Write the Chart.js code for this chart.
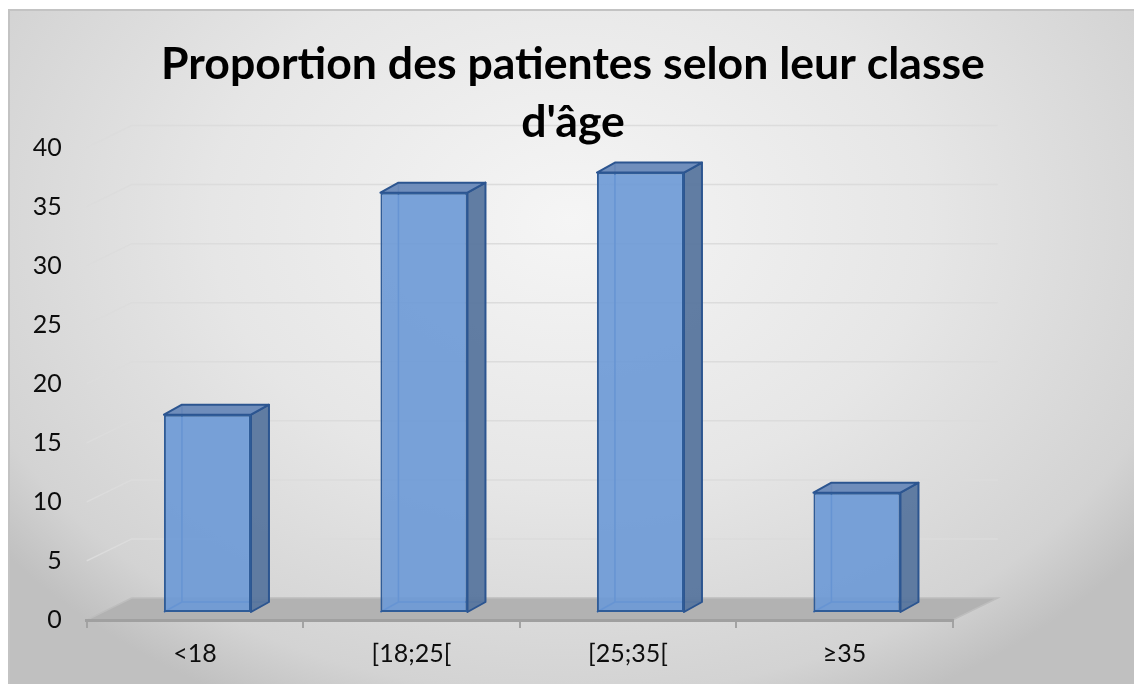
<!DOCTYPE html>
<html><head><meta charset="utf-8">
<script src="https://cdn.jsdelivr.net/npm/chart.js@4.4.1/dist/chart.umd.min.js"></script>
<style>html,body{margin:0;padding:0;background:#fff;overflow:hidden}canvas{display:block}</style>
</head><body>
<canvas id="c" width="1134" height="684"></canvas>
<script>
const titleLines = ['Proportion des patientes selon leur classe', "d'âge"];
const categories = ['<18', '[18;25[', '[25;35[', '≥35'];
const values = [16.7, 35.5, 37.2, 10.1];
const yTicks = [0, 5, 10, 15, 20, 25, 30, 35, 40];

const FLOOR_DX = 45, FLOOR_DY = -22;
const BAR_SHIFT_X = 12.5, BAR_SHIFT_Y = -8;
const BAR_DX = 18, BAR_DY = -10;

const threeD = {
  id: 'threeD',
  beforeDraw(chart) {
    const {ctx, chartArea: a, scales: {y}} = chart;
    const bx = 8, by = 9, bw = chart.width - 8, bh = chart.height - 9;
    ctx.save();
    ctx.fillStyle = '#ffffff';
    ctx.fillRect(0, 0, chart.width, chart.height);
    ctx.save();
    ctx.translate(571, 220);
    ctx.scale(1, 0.75);
    const g = ctx.createRadialGradient(0, 0, 0, 0, 0, 720);
    g.addColorStop(0, '#f5f5f5');
    g.addColorStop(0.5, '#e6e6e6');
    g.addColorStop(0.88, '#d3d3d3');
    g.addColorStop(1, '#c0c0c0');
    ctx.fillStyle = g;
    ctx.fillRect(bx - 571, (by - 220) / 0.75, bw, bh / 0.75);
    ctx.restore();
    ctx.strokeStyle = '#c3c3c3';
    ctx.lineWidth = 2;
    ctx.strokeRect(bx + 1, by + 1, bw, bh);
    // gridlines (side wall + back wall)
    ctx.strokeStyle = '#dcdcdc';
    ctx.lineWidth = 1.5;
    yTicks.forEach(v => {
      if (v === 0) return;
      const yf = y.getPixelForValue(v);
      ctx.beginPath();
      ctx.moveTo(a.left, yf);
      ctx.lineTo(a.left + FLOOR_DX, yf + FLOOR_DY);
      ctx.lineTo(a.right + FLOOR_DX, yf + FLOOR_DY);
      ctx.stroke();
    });
    // floor
    const y0 = y.getPixelForValue(0);
    ctx.beginPath();
    ctx.moveTo(a.left, y0);
    ctx.lineTo(a.right, y0);
    ctx.lineTo(a.right + FLOOR_DX, y0 + FLOOR_DY);
    ctx.lineTo(a.left + FLOOR_DX, y0 + FLOOR_DY);
    ctx.closePath();
    ctx.fillStyle = '#b2b2b2';
    ctx.fill();
    ctx.strokeStyle = '#bdbdbd';
    ctx.lineWidth = 1.5;
    ctx.stroke();
    ctx.restore();
  },
  beforeDatasetsDraw(chart) {
    const ctx = chart.ctx;
    ctx.save();
    ctx.translate(BAR_SHIFT_X, BAR_SHIFT_Y);
    const meta = chart.getDatasetMeta(0);
    meta.data.forEach(bar => {
      const {x, y, base, width} = bar.getProps(['x', 'y', 'base', 'width'], true);
      const l = x - width / 2, r = x + width / 2, t = Math.min(y, base), b = Math.max(y, base);
      ctx.lineJoin = 'round';
      // hidden back edges seen through
      ctx.strokeStyle = 'rgba(50,100,178,0.95)';
      ctx.lineWidth = 1.6;
      ctx.beginPath();
      ctx.moveTo(l + BAR_DX, t + BAR_DY);
      ctx.lineTo(l + BAR_DX, b + BAR_DY);
      ctx.lineTo(r + BAR_DX, b + BAR_DY);
      ctx.moveTo(l, b);
      ctx.lineTo(l + BAR_DX, b + BAR_DY);
      ctx.stroke();
      // right face
      ctx.beginPath();
      ctx.moveTo(r, t);
      ctx.lineTo(r + BAR_DX, t + BAR_DY);
      ctx.lineTo(r + BAR_DX, b + BAR_DY);
      ctx.lineTo(r, b);
      ctx.closePath();
      ctx.fillStyle = 'rgba(88,118,158,0.95)';
      ctx.fill();
      ctx.strokeStyle = '#2c5590';
      ctx.lineWidth = 2;
      ctx.stroke();
      // top face
      ctx.beginPath();
      ctx.moveTo(l, t);
      ctx.lineTo(l + BAR_DX, t + BAR_DY);
      ctx.lineTo(r + BAR_DX, t + BAR_DY);
      ctx.lineTo(r, t);
      ctx.closePath();
      ctx.fillStyle = 'rgba(104,136,184,0.95)';
      ctx.fill();
      ctx.stroke();
    });
  },
  afterDatasetsDraw(chart) {
    chart.ctx.restore();
  }
};

new Chart(document.getElementById('c'), {
  type: 'bar',
  data: {
    labels: categories,
    datasets: [{
      data: values,
      backgroundColor: 'rgba(108,153,214,0.9)',
      borderColor: '#2f5c98',
      borderWidth: 2,
      borderSkipped: false,
      barPercentage: 0.402,
      categoryPercentage: 1,
      clip: false
    }]
  },
  options: {
    responsive: false,
    animation: false,
    devicePixelRatio: 1,
    layout: {padding: {left: 12, right: 0, top: 0, bottom: 0}},
    plugins: {
      legend: {display: false},
      tooltip: {enabled: false},
      title: {
        display: true,
        text: titleLines,
        color: '#000',
        font: {family: 'Lato', size: 44.6, weight: 'bold', lineHeight: 58 / 44.6},
        padding: {top: 36, bottom: -4.5}
      }
    },
    scales: {
      x: {
        type: 'category',
        grid: {display: true, drawOnChartArea: false, drawTicks: true, tickLength: 8, color: '#a3a3a3', lineWidth: 2},
        border: {display: true, color: '#a0a0a0', width: 3},
        ticks: {color: '#0d0d0d', font: {family: 'Lato', size: 25}, padding: 11, maxRotation: 0},
        afterFit: s => { s.height = 64; }
      },
      y: {
        position: 'left',
        min: 0, max: 40,
        afterBuildTicks: s => { s.ticks = yTicks.map(v => ({value: v})); },
        grid: {display: false, drawTicks: false},
        border: {display: false},
        ticks: {color: '#0d0d0d', font: {family: 'Lato', size: 25}, padding: 25},
        afterFit: s => { s.width = 74.7; }
      },
      yRight: {
        position: 'right',
        display: true,
        grid: {display: false, drawTicks: false},
        border: {display: false},
        ticks: {display: false},
        afterFit: s => { s.width = 181.3; }
      }
    }
  },
  plugins: [threeD]
});
</script>
</body></html>
